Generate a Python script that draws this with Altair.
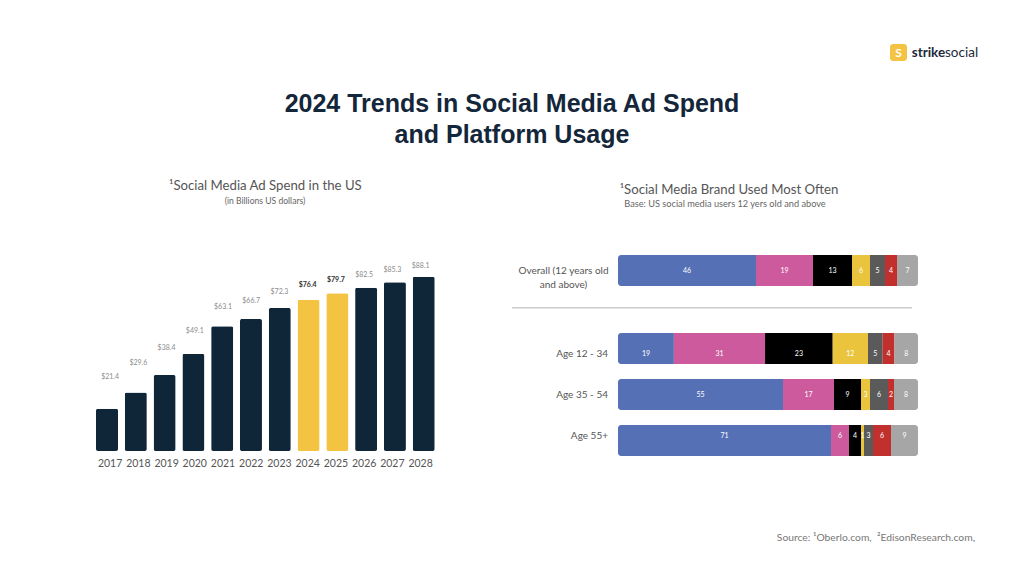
import json
import altair as alt
import pandas as pd

# ---------------- data ----------------
years = ["2017", "2018", "2019", "2020", "2021", "2022", "2023", "2024", "2025", "2026", "2027", "2028"]
spend = [21.4, 29.6, 38.4, 49.1, 63.1, 66.7, 72.3, 76.4, 79.7, 82.5, 85.3, 88.1]
highlight_years = ["2024", "2025"]

brands = ["Facebook", "Instagram", "TikTok", "Snapchat", "X (Twitter)", "Pinterest", "Other"]
overall_group = "Overall (12 years old and above)"
overall_label_lines = ["Overall (12 years old", "and above)"]
age_groups = ["Age 12 - 34", "Age 35 - 54", "Age 55+"]
shares_overall = [46, 19, 13, 6, 5, 4, 7]
shares_12_34 = [19, 31, 23, 12, 5, 4, 8]
shares_35_54 = [55, 17, 9, 3, 6, 2, 8]
shares_55_plus = [71, 6, 4, 1, 3, 6, 9]

main_title = ["2024 Trends in Social Media Ad Spend", "and Platform Usage"]
left_title = "¹Social Media Ad Spend in the US"
left_subtitle = "(in Billions US dollars)"
right_title = "¹Social Media Brand Used Most Often"
right_subtitle = "Base: US social media users 12 yers old and above"
source_text = "Source: ¹Oberlo.com,\u00a0 ²EdisonResearch.com,"

# ---------------- styles ----------------
NAVY = "#0f2538"
GOLD = "#f5c342"
brand_colors = ["#5670b5", "#cd5a9c", "#000000", "#e9c43c", "#5a5a5a", "#c2302e", "#a6a6a6"]
FONT = "Lato"

spend_df = pd.DataFrame({"year": years, "spend": spend})
rows = []
for g, vals in zip([overall_group] + age_groups, [shares_overall, shares_12_34, shares_35_54, shares_55_plus]):
    for i, (b, v) in enumerate(zip(brands, vals)):
        rows.append({"group": g, "brand": b, "value": v, "order": i})
share_df = pd.DataFrame(rows)

hl_expr = "indexof(%s, datum.year) >= 0" % json.dumps(highlight_years)


def x_years():
    return alt.X("year:N", sort=years, axis=None,
                 scale=alt.Scale(domain=years, range=[88, 426.7], paddingInner=0.235, paddingOuter=0))


bar_y = alt.Scale(domain=[0, 100], range=[443, 245.2], nice=False, zero=True)
lab_y = alt.Scale(domain=[0, 100], range=[404.3, 237.9], nice=False, zero=True)

bars = alt.Chart(spend_df).mark_bar(cornerRadius=2).encode(
    x=x_years(),
    y=alt.Y("spend:Q", scale=bar_y, axis=None),
    color=alt.condition(hl_expr, alt.value(GOLD), alt.value(NAVY)),
)

vals_plain = alt.Chart(spend_df).transform_filter("!(" + hl_expr + ")").mark_text(
    font=FONT, fontSize=7, color="#8c8c8c", baseline="middle"
).encode(
    x=x_years(),
    y=alt.Y("spend:Q", scale=lab_y, axis=None),
    text=alt.Text("spend:Q", format="$.1f"),
)

vals_bold = alt.Chart(spend_df).transform_filter(hl_expr).mark_text(
    font=FONT, fontSize=7, color="#333333", fontWeight="bold", baseline="middle"
).encode(
    x=x_years(),
    y=alt.Y("spend:Q", scale=lab_y, axis=None),
    text=alt.Text("spend:Q", format="$.1f"),
)

year_labels = alt.Chart(spend_df).mark_text(
    font=FONT, fontSize=10.5, color="#555555", baseline="middle"
).encode(
    x=x_years(),
    y=alt.value(456.3),
    text="year:N",
)

x_share = alt.Scale(domain=[0, 1], range=[610, 910], nice=False, zero=False)
y_overall = alt.Scale(domain=[overall_group], range=[247, 278], paddingInner=0, paddingOuter=0)
y_ages = alt.Scale(domain=age_groups, range=[325, 448], paddingInner=0.326, paddingOuter=0)


def stacked(groups, yscale):
    base = alt.Chart(share_df).transform_filter(
        "indexof(%s, datum.group) >= 0" % json.dumps(groups)
    ).transform_stack(
        stack="value", groupby=["group"], as_=["x0", "x1"], offset="normalize",
        sort=[alt.SortField("order", order="ascending")]
    ).transform_calculate(mid="(datum.x0 + datum.x1) / 2")
    enc = dict(
        x=alt.X("x0:Q", scale=x_share, axis=None),
        x2="x1:Q",
        y=alt.Y("group:N", scale=yscale, axis=None),
        color=alt.Color("brand:N", scale=alt.Scale(domain=brands, range=brand_colors), legend=None),
    )
    last = len(brands) - 1
    first_seg = base.transform_filter("datum.order == 0").mark_bar(
        cornerRadiusTopLeft=3, cornerRadiusBottomLeft=3).encode(**enc)
    mid_seg = base.transform_filter("datum.order > 0 && datum.order < %d" % last).mark_bar().encode(**enc)
    last_seg = base.transform_filter("datum.order == %d" % last).mark_bar(
        cornerRadiusTopRight=3, cornerRadiusBottomRight=3).encode(**enc)
    labels = base.mark_text(font=FONT, fontSize=7, color="white", baseline="middle").encode(
        x=alt.X("mid:Q", scale=x_share, axis=None),
        y=alt.Y("group:N", scale=yscale, axis=None),
        text="value:Q",
    )
    return [first_seg, mid_seg, last_seg, labels]


overall_layers = stacked([overall_group], y_overall)
age_layers = stacked(age_groups, y_ages)

overall_label = alt.Chart(pd.DataFrame({"group": [overall_group]})).mark_text(
    font=FONT, fontSize=10, color="#555555", align="center", baseline="middle", lineHeight=14
).encode(
    x=alt.value(555.5),
    y=alt.Y("group:N", scale=y_overall, axis=None),
    text=alt.value(overall_label_lines),
)

age_labels = alt.Chart(pd.DataFrame({"group": age_groups})).mark_text(
    font=FONT, fontSize=10, color="#555555", align="right", baseline="middle"
).encode(
    x=alt.value(600),
    y=alt.Y("group:N", scale=y_ages, axis=None),
    text="group:N",
)

separator = alt.Chart(pd.DataFrame({"a": [0]})).mark_rule(color="#cccccc", strokeWidth=1.5).encode(
    x=alt.value(504), x2=alt.value(904), y=alt.value(299.7)
)


def label(text, x, y, **kw):
    return alt.Chart(pd.DataFrame({"t": [0]})).mark_text(**kw).encode(
        x=alt.value(x), y=alt.value(y), text=alt.value(text)
    )


title_layer = label(main_title, 504, 104, font="Liberation Sans", fontSize=25, fontWeight="bold",
                    color="#14263a", align="center", baseline="alphabetic", lineHeight=31)
lt = label(left_title, 257.4, 178, font=FONT, fontSize=13.2, color="#555555", align="center", baseline="middle")
ls = label(left_subtitle, 257, 192.7, font=FONT, fontSize=8.6, color="#666666", align="center", baseline="middle")
rt = label(right_title, 721, 182, font=FONT, fontSize=13.2, color="#555555", align="center", baseline="middle")
rs = label(right_subtitle, 717, 196.3, font=FONT, fontSize=9.2, color="#666666", align="center", baseline="middle")
src = label(source_text, 967, 530, font=FONT, fontSize=10.3, color="#777777", align="right", baseline="middle")

logo_box = alt.Chart(pd.DataFrame({"t": [0]})).mark_rect(color=GOLD, cornerRadius=3).encode(
    x=alt.value(882), x2=alt.value(899), y=alt.value(36), y2=alt.value(53)
)
logo_s = label("S", 890.5, 44.8, font=FONT, fontSize=12, fontWeight="bold", color="white",
               align="center", baseline="middle")
logo_strike = label("strike", 903.7, 45.3, font=FONT, fontSize=13.5, fontWeight="bold", color="#1d2a3a",
                    align="left", baseline="middle")
logo_social = label("social", 937, 45.3, font=FONT, fontSize=13.5, color="#1d2a3a",
                    align="left", baseline="middle")

chart = alt.layer(
    bars, vals_plain, vals_bold, year_labels,
    *overall_layers, *age_layers,
    overall_label, age_labels, separator,
    title_layer, lt, ls, rt, rs, src,
    logo_box, logo_s, logo_strike, logo_social,
).resolve_scale(
    x="independent", y="independent", color="independent"
).properties(
    width=1008, height=560, padding=0,
    autosize=alt.AutoSizeParams(type="none"),
).configure_view(stroke=None)

chart.save("out.html", embed_options={"renderer": "svg", "actions": False})
